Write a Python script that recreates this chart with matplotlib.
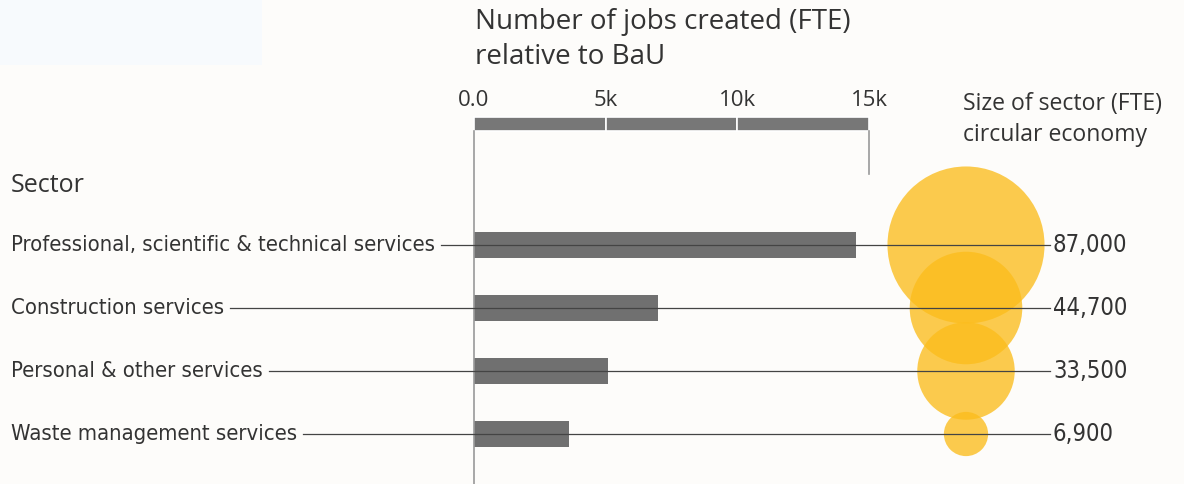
import matplotlib
matplotlib.use("Agg")
import matplotlib.pyplot as plt
from matplotlib.patches import Rectangle

# data
sectors = ["Professional, scientific & technical services",
           "Construction services",
           "Personal & other services",
           "Waste management services"]
jobs = [14500, 7000, 5100, 3600]          # jobs created relative to BaU (FTE)
size = [87000, 44700, 33500, 6900]        # size of sector, circular economy (FTE)
size_labels = ["87,000", "44,700", "33,500", "6,900"]
ticks = [0, 5000, 10000, 15000]
tick_labels = ["0.0", "5k", "10k", "15k"]

W, H = 1184, 484
bg = "#FDFCFA"
txt = "#333333"
bar_c = "#707070"
narrow = dict(family="DejaVu Sans", stretch="condensed")
title_font = ["Open Sans", "DejaVu Sans"]

fig = plt.figure(figsize=(W / 100, H / 100), dpi=100, facecolor=bg)
fig.patches.append(Rectangle((0, 1 - 65 / H), 262 / W, 65 / H, transform=fig.transFigure,
                             facecolor="#F7FAFD", edgecolor="none", zorder=0))

# axes: x 0..15k maps to px 474..869, rows at px 245 + 63*i
x0, x1 = 474, 869
ax = fig.add_axes([x0 / W, (H - 465.5) / H, (x1 - x0) / W, 252 / H])
ax.set_xlim(0, 15000)
ax.set_ylim(3.5, -0.5)
ax.axis("off")
ax.patch.set_alpha(0)

def px2x(px):
    return (px - x0) / (x1 - x0) * 15000

def py2y(py):
    return (py - 245) / 63

rows = list(range(len(sectors)))

# jobs bars
ax.barh(rows, jobs, height=0.41, color=bar_c, zorder=3, clip_on=False)

# scale bar on top
for a, b in zip(ticks[:-1], ticks[1:]):
    ax.barh(py2y(124), b - a, left=a, height=14 / 63, color="#777777",
            edgecolor="white", linewidth=1.2, zorder=3, clip_on=False)
for t, lab in zip(ticks, tick_labels):
    ax.text(t, py2y(100), lab, ha="center", va="center", fontsize=16,
            color=txt, family=title_font)
ax.plot([0, 0], [py2y(131), py2y(484)], color="#999999", lw=1.2, clip_on=False, zorder=4)
ax.plot([15000, 15000], [py2y(131), py2y(174)], color="#999999", lw=1.2, clip_on=False, zorder=4)

# bubbles
cx = px2x(966)
ax.scatter([cx] * len(size), rows, s=[v * 0.147 for v in size], color="#FBBD1C",
           alpha=0.78, linewidths=0, zorder=2, clip_on=False)

# sector labels, connector lines and values
fig.canvas.draw()
rend = fig.canvas.get_renderer()
for i, name in enumerate(sectors):
    t = ax.text(px2x(11), i, name, ha="left", va="center", fontsize=15.8,
                color=txt, weight="medium", **narrow)
    bb = t.get_window_extent(renderer=rend)
    start = px2x(bb.x1 + 6)
    ax.plot([start, px2x(1050)], [i, i], color="#444444", lw=0.9, zorder=5, clip_on=False)
    ax.text(px2x(1053), i, size_labels[i], ha="left", va="center", fontsize=17,
            color=txt, **narrow)

# headers
fig.text(475 / W, 1 - 22 / H, "Number of jobs created (FTE)", fontsize=20, color=txt,
         family=title_font, ha="left", va="center")
fig.text(475 / W, 1 - 57 / H, "relative to BaU", fontsize=20, color=txt,
         family=title_font, ha="left", va="center")
fig.text(963 / W, 1 - 104 / H, "Size of sector (FTE)", fontsize=16.6, color=txt,
         family=title_font, ha="left", va="center")
fig.text(963 / W, 1 - 135 / H, "circular economy", fontsize=16.6, color=txt,
         family=title_font, ha="left", va="center")
fig.text(11 / W, 1 - 185 / H, "Sector", fontsize=18, color=txt,
         family=title_font, ha="left", va="center")

fig.savefig("out.png", dpi=100, facecolor=bg)
